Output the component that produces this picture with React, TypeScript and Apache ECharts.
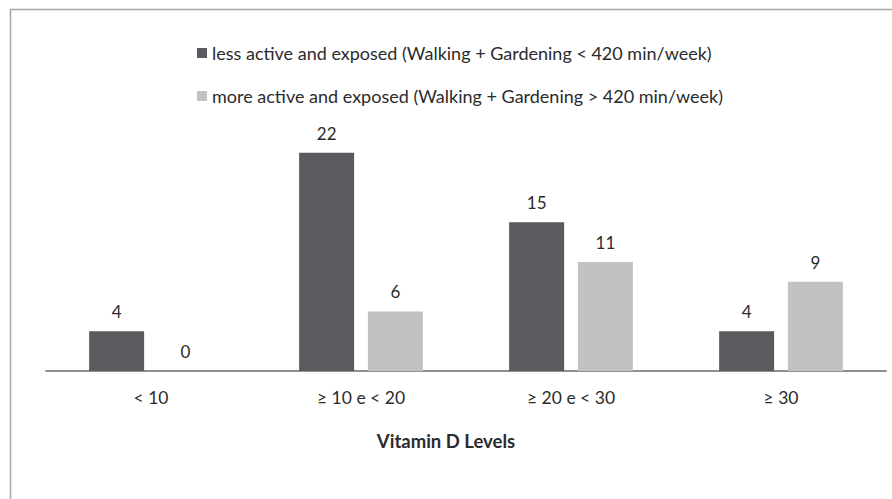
import React, { useEffect, useRef } from "react";
import * as echarts from "echarts";

const categories = ["< 10", "≥ 10 e < 20", "≥ 20 e < 30", "≥ 30"];
const lessActive = [4, 22, 15, 4];
const moreActive = [0, 6, 11, 9];
const seriesNames = [
  "less active and exposed (Walking + Gardening < 420 min/week)",
  "more active and exposed (Walking + Gardening > 420 min/week)",
];
const titleText = "Vitamin D Levels";

const FONT = "Lato, 'Liberation Sans', sans-serif";
const TEXT = "#2b2b2b";

export default function App() {
  const ref = useRef<HTMLDivElement>(null);
  useEffect(() => {
    document.body.style.margin = "0";
    if (!ref.current) return;
    const chart = echarts.init(ref.current, undefined, { renderer: "svg" });
    const legendBase = {
      left: 192,
      icon: "rect",
      itemWidth: 10,
      itemHeight: 10,
      selectedMode: false,
      textStyle: { fontFamily: FONT, fontSize: 18, color: TEXT },
    };
    const labelStyle = {
      show: true,
      position: "top",
      distance: 11,
      fontFamily: FONT,
      fontSize: 17,
      color: TEXT,
    };
    chart.setOption({
      animation: false,
      backgroundColor: "#ffffff",
      textStyle: { fontFamily: FONT },
      title: {
        text: titleText,
        left: "center",
        top: 426,
        textStyle: { fontFamily: FONT, fontSize: 18.5, fontWeight: "bold", color: TEXT },
      },
      legend: [
        { ...legendBase, data: [seriesNames[0]], top: 39 },
        { ...legendBase, data: [seriesNames[1]], top: 82 },
      ],
      grid: { left: 46, right: 6, top: 123, bottom: 128 },
      xAxis: {
        type: "category",
        data: categories,
        axisLine: { lineStyle: { color: "#8f8f8f", width: 2 } },
        axisTick: { show: false },
        axisLabel: { fontFamily: FONT, fontSize: 17.5, color: TEXT, margin: 17 },
      },
      yAxis: {
        type: "value",
        min: 0,
        max: 25,
        show: false,
        splitLine: { show: false },
      },
      series: [
        {
          name: seriesNames[0],
          type: "bar",
          data: lessActive,
          barWidth: 55,
          barGap: "25%",
          itemStyle: { color: "#5a5b5e" },
          label: labelStyle,
        },
        {
          name: seriesNames[1],
          type: "bar",
          data: moreActive,
          barWidth: 55,
          barGap: "25%",
          itemStyle: { color: "#c1c2c4" },
          label: labelStyle,
        },
      ],
      graphic: [
        {
          type: "rect",
          shape: { x: 10.5, y: 9.5, width: 1000, height: 1000 },
          style: { fill: "none", stroke: "#a6a6a6", lineWidth: 1.5 },
          silent: true,
        },
      ],
    });
    return () => chart.dispose();
  }, []);
  return <div ref={ref} style={{ width: 892, height: 499 }} />;
}
